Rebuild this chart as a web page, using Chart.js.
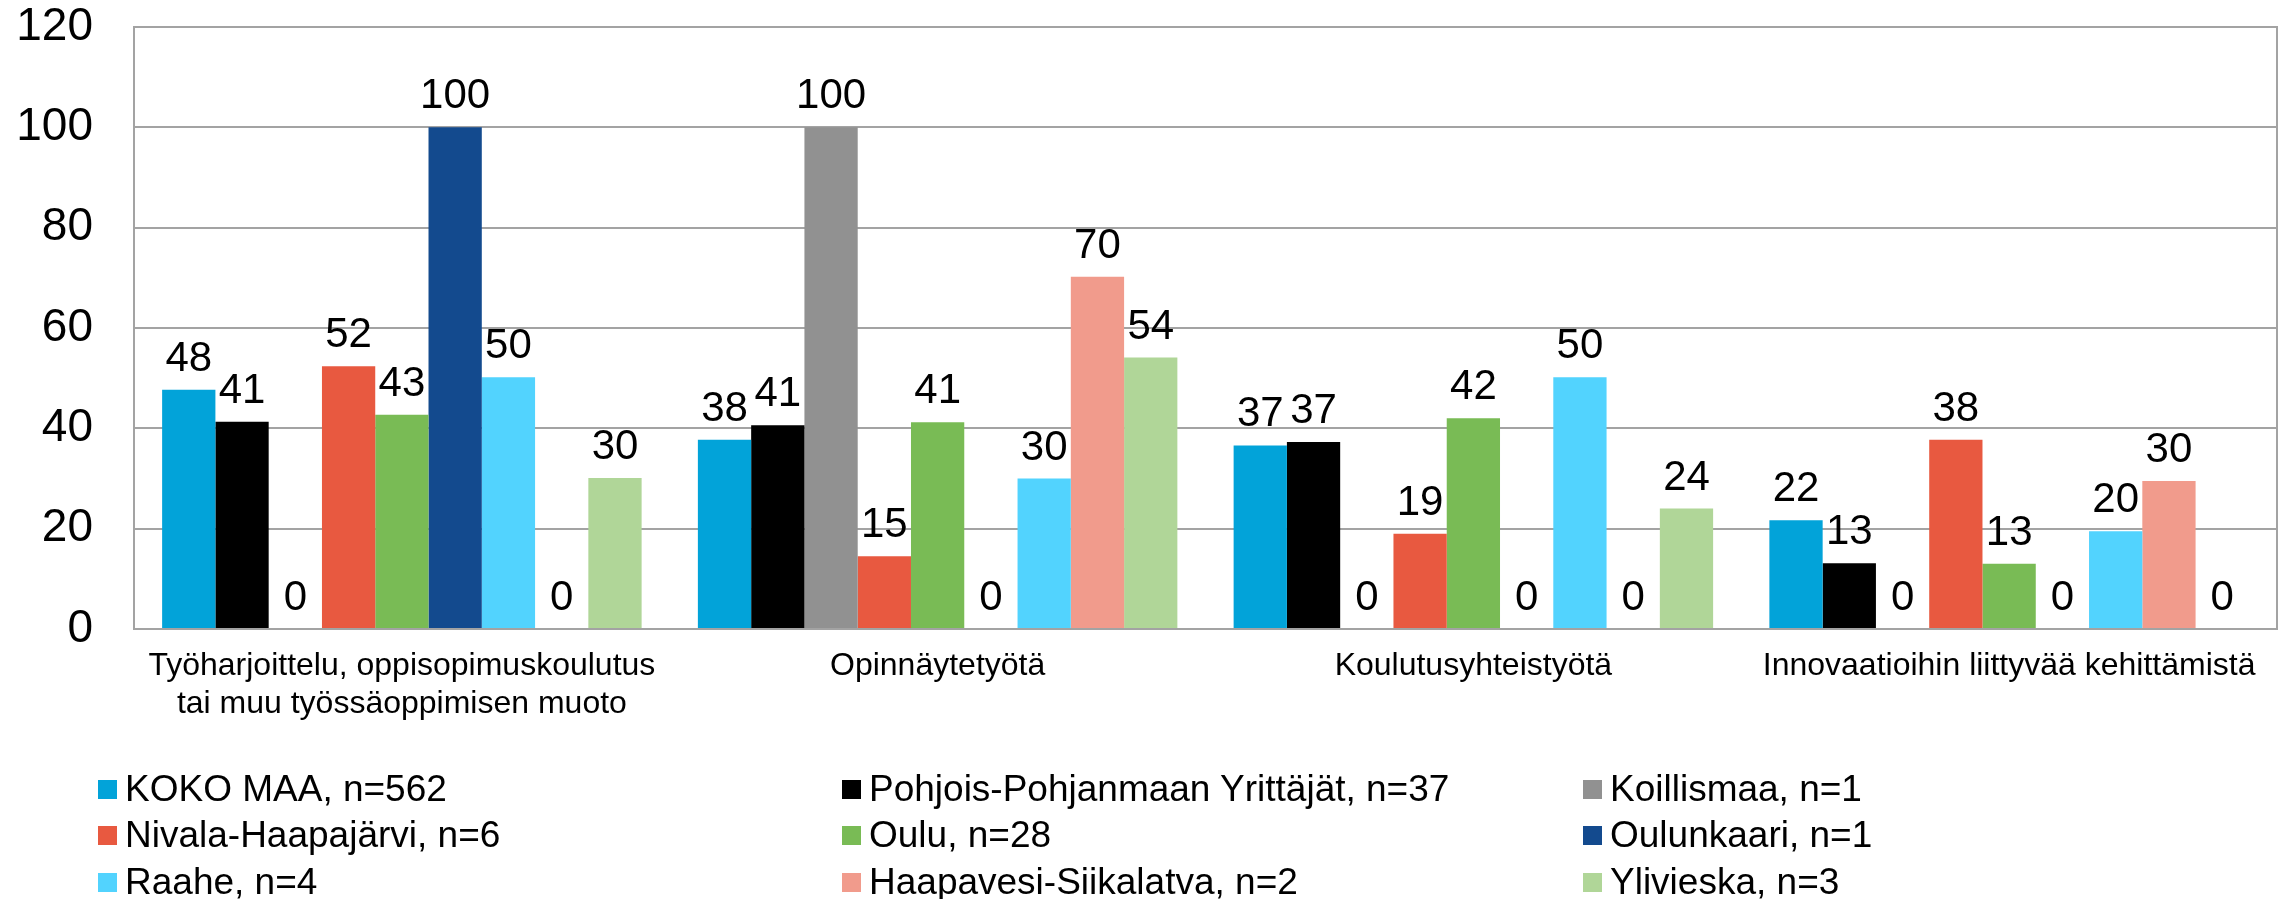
<!DOCTYPE html>
<html lang="fi">
<head>
    <meta charset="UTF-8">
    <title>Yhteistyön muodot</title>
    <style>
        body {
            margin: 0;
            background: #ffffff;
            font-family: Arial, "Liberation Sans", sans-serif;
        }
        .wrap {
            position: relative;
            width: 2283px;
            height: 899px;
        }
        .legend-item {
            position: absolute;
            font-size: 37px;
            line-height: 44px;
            color: #000;
            white-space: nowrap;
        }
        .legend-item span.box {
            position: absolute;
            left: -27px;
            top: 13px;
            width: 19px;
            height: 19px;
        }
    </style>
</head>
<body>
    <div class="wrap">
        <canvas id="chart"></canvas>
        <div id="legend"></div>
    </div>

    <script src="https://cdn.jsdelivr.net/npm/chart.js"></script>
    <script>
        // categories (x axis)
        const categories = [
            ['Työharjoittelu, oppisopimuskoulutus', 'tai muu työssäoppimisen muoto'],
            'Opinnäytetyötä',
            'Koulutusyhteistyötä',
            'Innovaatioihin liittyvää kehittämistä'
        ];

        // series names
        const seriesNames = [
            'KOKO MAA, n=562',
            'Pohjois-Pohjanmaan Yrittäjät, n=37',
            'Koillismaa, n=1',
            'Nivala-Haapajärvi, n=6',
            'Oulu, n=28',
            'Oulunkaari, n=1',
            'Raahe, n=4',
            'Haapavesi-Siikalatva, n=2',
            'Ylivieska, n=3'
        ];

        // values per series, one per category (%)
        const kokoMaa     = [47.7, 37.7, 36.6, 21.7];
        const pohjois     = [41.3, 40.6, 37.3, 13.1];
        const koillismaa  = [0, 100, 0, 0];
        const nivala      = [52.4, 14.5, 19.0, 37.7];
        const oulu        = [42.7, 41.2, 42.0, 13.0];
        const oulunkaari  = [100, 0, 0, 0];
        const raahe       = [50.2, 30.0, 50.2, 19.5];
        const haapavesi   = [0, 70.2, 0, 29.5];
        const ylivieska   = [30.1, 54.1, 24.0, 0];

        const seriesValues = [kokoMaa, pohjois, koillismaa, nivala, oulu, oulunkaari, raahe, haapavesi, ylivieska];

        const colors = ['#02a3d9', '#000000', '#919191', '#e85940', '#79bb55', '#134a8e', '#52d3fe', '#f19b8c', '#b0d698'];

        // y axis ticks
        const yTicks = [0, 20, 40, 60, 80, 100, 120];

        const FONT = 'Arial, "Liberation Sans", sans-serif';
        const GRID = '#a3a3a3';

        const datasets = seriesNames.map((name, i) => ({
            label: name,
            data: seriesValues[i],
            backgroundColor: colors[i],
            borderWidth: 0,
            categoryPercentage: 0.895,
            barPercentage: 1.0
        }));

        // value labels above bars
        const valueLabels = {
            id: 'valueLabels',
            afterDatasetsDraw(chart) {
                const ctx = chart.ctx;
                ctx.save();
                ctx.font = '42px ' + FONT;
                ctx.fillStyle = '#000';
                ctx.textAlign = 'center';
                ctx.textBaseline = 'alphabetic';
                chart.data.datasets.forEach((ds, i) => {
                    const meta = chart.getDatasetMeta(i);
                    meta.data.forEach((bar, j) => {
                        ctx.fillText(String(Math.round(ds.data[j])), bar.x, bar.y - 19);
                    });
                });
                ctx.restore();
            }
        };

        // frame round the plot area
        const plotFrame = {
            id: 'plotFrame',
            afterDraw(chart) {
                const a = chart.chartArea;
                const ctx = chart.ctx;
                ctx.save();
                ctx.strokeStyle = GRID;
                ctx.lineWidth = 2;
                ctx.strokeRect(a.left, a.top, a.right - a.left, a.bottom - a.top);
                ctx.restore();
            }
        };

        const chart = new Chart(document.getElementById('chart'), {
            type: 'bar',
            data: {
                labels: categories,
                datasets: datasets
            },
            options: {
                responsive: true,
                maintainAspectRatio: false,
                animation: false,
                layout: {
                    padding: { top: 27, right: 6, left: 0, bottom: 0 }
                },
                plugins: {
                    legend: { display: false },
                    tooltip: { enabled: false }
                },
                scales: {
                    x: {
                        grid: { display: false },
                        border: { display: false },
                        ticks: {
                            color: '#000',
                            font: { family: FONT, size: 32, lineHeight: 1.2 },
                            padding: 10,
                            maxRotation: 0,
                            autoSkip: false
                        },
                        afterFit(scale) {
                            scale.height = 270;
                            scale.paddingLeft = 0;
                            scale.paddingRight = 0;
                        }
                    },
                    y: {
                        min: 0,
                        max: 120,
                        afterBuildTicks(scale) {
                            scale.ticks = yTicks.map(v => ({ value: v }));
                        },
                        grid: { color: GRID, lineWidth: 2, drawTicks: false },
                        border: { color: GRID, width: 2 },
                        ticks: {
                            color: '#000',
                            font: { family: FONT, size: 46 },
                            padding: 41
                        },
                        afterFit(scale) {
                            scale.width = 134;
                            scale.paddingTop = 0;
                            scale.paddingBottom = 0;
                        }
                    }
                }
            },
            plugins: [valueLabels, plotFrame]
        });

        // legend: three columns, filled row by row
        const legendCols = [98, 842, 1583];
        const legendRows = [766.5, 812.5, 859.5];
        const legend = document.getElementById('legend');
        chart.data.datasets.forEach((ds, i) => {
            const item = document.createElement('div');
            item.className = 'legend-item';
            item.style.left = (legendCols[i % 3] + 27) + 'px';
            item.style.top = legendRows[Math.floor(i / 3)] + 'px';
            const box = document.createElement('span');
            box.className = 'box';
            box.style.background = ds.backgroundColor;
            item.appendChild(box);
            item.appendChild(document.createTextNode(ds.label));
            legend.appendChild(item);
        });
    </script>
</body>
</html>
